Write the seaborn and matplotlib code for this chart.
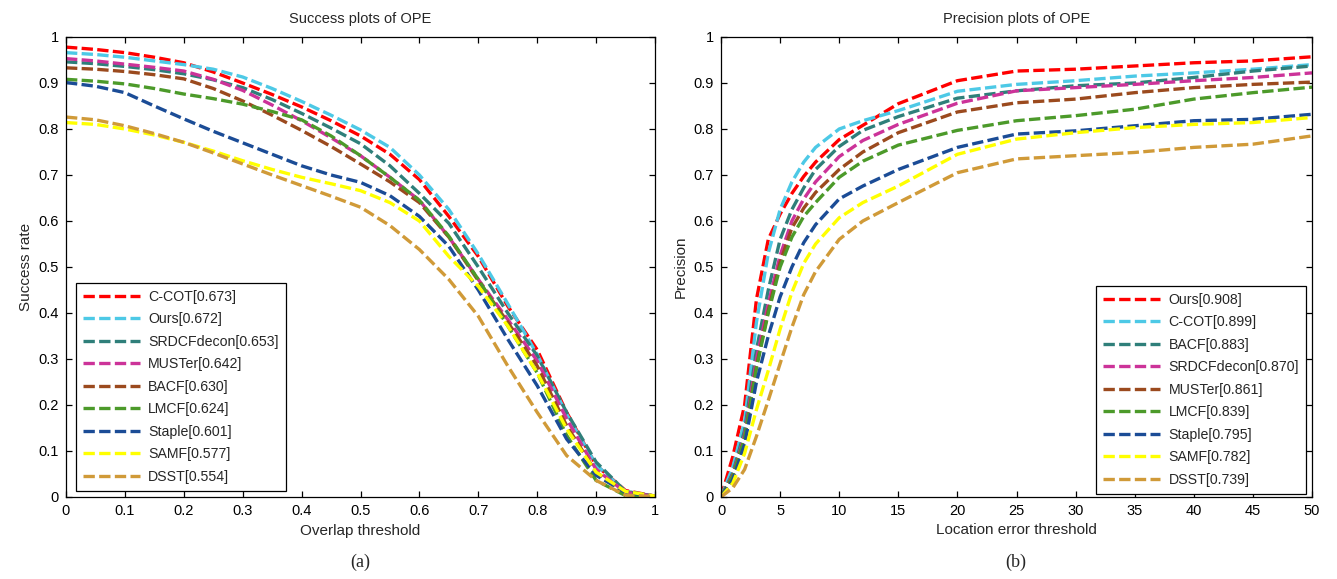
import matplotlib as mpl
mpl.use('Agg')
import matplotlib.pyplot as plt
import numpy as np
import pandas as pd
import seaborn as sns

sns.set_theme(style='white')
plt.rcParams['font.family'] = ['Liberation Sans', 'DejaVu Sans']

# success plot: overlap thresholds and success rates per tracker
OVERLAP = [0, 0.05, 0.1, 0.15, 0.2, 0.25, 0.3, 0.35, 0.4, 0.45, 0.5, 0.55,
           0.6, 0.65, 0.7, 0.75, 0.8, 0.85, 0.9, 0.95, 1.0]
SUCC_CCOT = [.978, .973, .966, .956, .944, .924, .900, .875, .848, .818, .785, .745,
             .690, .610, .523, .415, .320, .184, .069, .014, .002]
SUCC_OURS = [.966, .962, .956, .948, .940, .930, .913, .888, .860, .830, .798, .760,
             .700, .625, .528, .420, .310, .180, .070, .012, .002]
SUCC_SRDCFDECON = [.946, .942, .936, .929, .920, .907, .890, .864, .834, .802, .768, .720,
                   .660, .595, .500, .400, .307, .184, .076, .012, .002]
SUCC_MUSTER = [.953, .948, .941, .934, .926, .908, .884, .852, .818, .781, .742, .695,
               .645, .565, .473, .386, .296, .170, .060, .010, .002]
SUCC_BACF = [.933, .930, .925, .918, .909, .888, .861, .830, .797, .762, .724, .685,
             .640, .565, .470, .380, .285, .155, .054, .008, .001]
SUCC_LMCF = [.908, .904, .898, .888, .876, .866, .854, .838, .820, .785, .742, .695,
             .645, .567, .473, .372, .270, .134, .036, .003, .000]
SUCC_STAPLE = [.901, .893, .879, .850, .822, .795, .770, .745, .720, .700, .684, .655,
               .610, .545, .450, .343, .242, .126, .047, .010, .001]
SUCC_SAMF = [.814, .810, .800, .787, .771, .752, .731, .712, .695, .681, .666, .640,
             .600, .523, .458, .372, .270, .148, .054, .012, .002]
SUCC_DSST = [.826, .820, .807, .790, .771, .748, .724, .700, .677, .654, .630, .590,
             .538, .473, .393, .285, .184, .090, .036, .004, .001]

SUCC_NAMES = ['C-COT[0.673]', 'Ours[0.672]', 'SRDCFdecon[0.653]', 'MUSTer[0.642]', 'BACF[0.630]',
              'LMCF[0.624]', 'Staple[0.601]', 'SAMF[0.577]', 'DSST[0.554]']
SUCC_VALUES = [SUCC_CCOT, SUCC_OURS, SUCC_SRDCFDECON, SUCC_MUSTER, SUCC_BACF,
               SUCC_LMCF, SUCC_STAPLE, SUCC_SAMF, SUCC_DSST]
SUCC_COLORS = ['#ff0000', '#4dc9e6', '#2f7f7a', '#cc3399', '#9b4a1e',
               '#4c9a2a', '#1b4c96', '#ffff00', '#d09a38']

# precision plot: location error thresholds and precision per tracker
LOC_ERR = [0, 1, 2, 3, 4, 5, 6, 7, 8, 10, 12, 15, 20, 25, 30, 35, 40, 45, 50]
PREC_OURS = [0, .088, .200, .430, .560, .615, .660, .697, .728, .777, .808, .855, .905, .926, .930, .937, .944, .948, .957]
PREC_CCOT = [0, .065, .165, .380, .530, .625, .685, .728, .760, .800, .818, .840, .882, .897, .905, .915, .922, .930, .940]
PREC_BACF = [0, .052, .145, .320, .450, .560, .625, .672, .712, .762, .797, .827, .867, .883, .894, .900, .912, .926, .937]
PREC_SRDCFDECON = [0, .048, .135, .300, .420, .525, .600, .648, .685, .740, .775, .810, .856, .883, .890, .897, .905, .912, .922]
PREC_MUSTER = [0, .045, .128, .285, .405, .510, .585, .628, .662, .712, .750, .792, .837, .857, .865, .879, .890, .897, .902]
PREC_LMCF = [0, .045, .128, .280, .400, .500, .565, .610, .640, .695, .730, .765, .797, .818, .829, .843, .865, .879, .891]
PREC_STAPLE = [0, .038, .115, .250, .350, .435, .500, .553, .592, .648, .676, .712, .760, .789, .796, .807, .818, .821, .832]
PREC_SAMF = [0, .030, .095, .190, .275, .365, .445, .508, .550, .607, .640, .676, .745, .778, .792, .803, .810, .814, .825]
PREC_DSST = [0, .020, .060, .132, .210, .290, .369, .440, .490, .560, .600, .640, .705, .735, .742, .749, .760, .767, .785]

PREC_NAMES = ['Ours[0.908]', 'C-COT[0.899]', 'BACF[0.883]', 'SRDCFdecon[0.870]', 'MUSTer[0.861]',
              'LMCF[0.839]', 'Staple[0.795]', 'SAMF[0.782]', 'DSST[0.739]']
PREC_VALUES = [PREC_OURS, PREC_CCOT, PREC_BACF, PREC_SRDCFDECON, PREC_MUSTER,
               PREC_LMCF, PREC_STAPLE, PREC_SAMF, PREC_DSST]
# in the precision plot the palette follows the legend order
PREC_COLORS = ['#ff0000', '#4dc9e6', '#2f7f7a', '#cc3399', '#9b4a1e',
               '#4c9a2a', '#1b4c96', '#ffff00', '#d09a38']

DASH = (0, (3.4, 1.3))
LW = 2.4
FS = 10.5


def style_axes(ax):
    """MATLAB-ish boxed axes with inward ticks on every side."""
    for sp in ax.spines.values():
        sp.set_visible(True)
        sp.set_color('black')
        sp.set_linewidth(0.9)
    ax.tick_params(direction='in', length=4, width=0.9, top=True, right=True,
                   bottom=True, left=True, labelsize=FS, colors='black', pad=5)
    ax.grid(False)


def add_legend(ax, loc, anchor):
    leg = ax.legend(loc=loc, bbox_to_anchor=anchor, borderaxespad=0,
                    fontsize=FS - 0.3, handlelength=4.0, handletextpad=0.6,
                    labelspacing=0.6, frameon=True, fancybox=False,
                    edgecolor='black', framealpha=1, borderpad=0.5)
    leg.get_frame().set_linewidth(0.9)


def fmt(v):
    return f'{v:g}'


fig = plt.figure(figsize=(13.37, 5.79), dpi=100)
ax1 = fig.add_axes([66 / 1337, 82 / 579, 589 / 1337, 460 / 579])
ax2 = fig.add_axes([721 / 1337, 82 / 579, 591 / 1337, 460 / 579])

# (a) success
for col, name, vals in zip(SUCC_COLORS, SUCC_NAMES, SUCC_VALUES):
    df = pd.DataFrame({'x': OVERLAP, 'y': vals})
    sns.lineplot(data=df, x='x', y='y', ax=ax1, color=col, label=name,
                 linewidth=LW, linestyle=DASH, errorbar=None, sort=True)
ax1.set_xlim(0, 1)
ax1.set_ylim(0, 1)
ticks = np.round(np.arange(0, 1.01, 0.1), 1)
ax1.set_xticks(ticks, labels=[fmt(t) for t in ticks])
ax1.set_yticks(ticks, labels=[fmt(t) for t in ticks])
ax1.set_title('Success plots of OPE', fontsize=FS, pad=10)
ax1.set_xlabel('Overlap threshold', fontsize=FS + 0.5, labelpad=4)
ax1.set_ylabel('Success rate', fontsize=FS + 0.5, labelpad=4)
style_axes(ax1)
add_legend(ax1, 'lower left', (10 / 589, 6 / 460))

# (b) precision
for col, name, vals in zip(PREC_COLORS, PREC_NAMES, PREC_VALUES):
    df = pd.DataFrame({'x': LOC_ERR, 'y': vals})
    sns.lineplot(data=df, x='x', y='y', ax=ax2, color=col, label=name,
                 linewidth=LW, linestyle=DASH, errorbar=None, sort=True)
ax2.set_xlim(0, 50)
ax2.set_ylim(0, 1)
xt = np.arange(0, 51, 5)
ax2.set_xticks(xt, labels=[str(t) for t in xt])
ax2.set_yticks(ticks, labels=[fmt(t) for t in ticks])
ax2.set_title('Precision plots of OPE', fontsize=FS, pad=10)
ax2.set_xlabel('Location error threshold', fontsize=FS + 0.5, labelpad=4)
ax2.set_ylabel('Precision', fontsize=FS + 0.5, labelpad=4)
style_axes(ax2)
add_legend(ax2, 'lower right', (1 - 6 / 591, 3 / 460))

fig.text(360 / 1337, 1 - 562 / 579, '(a)', ha='center', va='center', fontsize=13,
         family=['Liberation Serif', 'DejaVu Serif'])
fig.text(1016 / 1337, 1 - 562 / 579, '(b)', ha='center', va='center', fontsize=13,
         family=['Liberation Serif', 'DejaVu Serif'])

fig.savefig('out.png', dpi=100)
